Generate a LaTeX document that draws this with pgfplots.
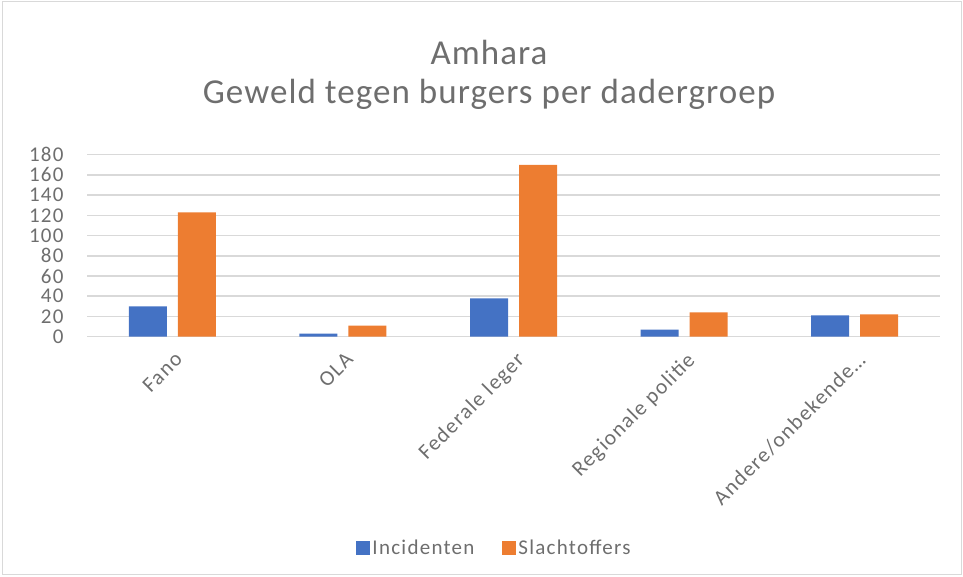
\documentclass[border=0pt]{standalone}
\usepackage{pgfplots}
\pgfplotsset{compat=1.18}
\usepackage{fontspec}
\setmainfont[LetterSpace=6]{Carlito}
\newfontfamily\titlefont[LetterSpace=3]{Carlito}
\definecolor{txt}{RGB}{110,110,110}
\definecolor{gridc}{RGB}{217,217,217}
\definecolor{cblue}{RGB}{68,114,196}
\definecolor{corange}{RGB}{237,125,49}
\begin{document}
\begin{tikzpicture}[x=1bp,y=1bp]
\useasboundingbox (0,0) rectangle (963,577);
\draw[gridc, line width=1bp] (2,2) rectangle (961,575);
\node[anchor=base, text=txt, font=\titlefont\fontsize{35bp}{40bp}\selectfont] at (489,512) {Amhara};
\node[anchor=base, text=txt, font=\titlefont\fontsize{35bp}{40bp}\selectfont] at (489,473) {Geweld tegen burgers per dadergroep};
\begin{axis}[
  at={(87bp,240.3bp)}, anchor=south west,
  scale only axis, width=853bp, height=182bp,
  xmin=-0.5, xmax=4.5, ymin=0, ymax=180,
  ybar=11bp, bar width=38bp,
  xtick={0,1,2,3,4},
  xticklabels={Fano,OLA,Federale leger,Regionale politie,Andere/onbekende…},
  ytick={0,20,...,180},
  xmajorgrids=false, ymajorgrids=true, grid style={color=gridc, line width=1.5bp},
  axis line style={draw=none}, tick style={draw=none},
  /pgf/number format/assume math mode=true,
  ticklabel style={text=txt, font=\fontsize{21bp}{24bp}\selectfont},
  yticklabel style={anchor=east, xshift=-20bp},
  xticklabel style={rotate=45, anchor=north east, inner sep=0pt, xshift=-6bp, yshift=-8bp, font=\fontsize{21.5bp}{24bp}\selectfont},
  legend style={at={(0.4777,-1.161)}, anchor=center, draw=none, legend columns=2,
    font=\fontsize{21bp}{24bp}\selectfont, text=txt,
    /tikz/every even column/.append style={column sep=26bp}},
  legend image code/.code={\fill[#1] (0bp,-7bp) rectangle (14bp,7bp);},
]
\addplot[fill=cblue, draw=none] coordinates {(0,30) (1,3) (2,38) (3,7) (4,21)};
\addplot[fill=corange, draw=none] coordinates {(0,123) (1,11) (2,170) (3,24) (4,22)};
\legend{Incidenten,Slachtoffers}
\end{axis}
\end{tikzpicture}
\end{document}
